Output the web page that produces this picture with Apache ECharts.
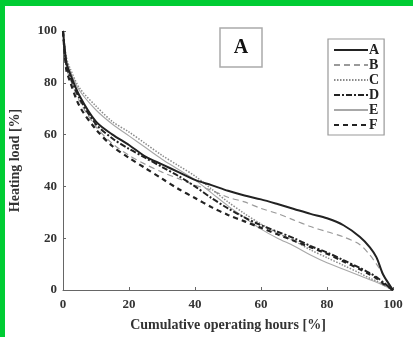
<!DOCTYPE html>
<html>
<head>
<meta charset="utf-8">
<style>
  html, body { margin: 0; padding: 0; background: #fff; }
  #chart { width: 413px; height: 337px; }
</style>
<script src="https://cdn.jsdelivr.net/npm/echarts@6/dist/echarts.min.js"></script>
</head>
<body>
<div id="chart"></div>
<script>
// Load duration curves: share of cumulative operating hours (x) vs heating load (y), in percent
const hoursPct = [0, 1, 2, 5, 10, 15, 20, 25, 30, 35, 40, 45, 50, 55, 60, 65, 70, 75, 80, 85, 90, 93, 95, 97, 100];

const loadA = [100, 88, 84, 75, 65, 60, 56, 51.5, 48.5, 45.5, 42.5, 40.5, 38.3, 36.5, 35, 33.2, 31.3, 29.4, 27.7, 25, 20.5, 16.5, 12.6, 6, 0];
const loadB = [100, 86, 82, 73, 63, 56.5, 52, 48.5, 45.5, 43, 40.5, 38.5, 35.8, 34, 31.5, 29.5, 27, 24.5, 22.5, 20.5, 17.5, 13.5, 10, 6, 0];
const loadC = [100, 90, 86, 78, 71, 65, 61, 56.5, 52, 48, 44, 39, 34, 29.5, 25.5, 22, 19, 15.5, 12.5, 9.5, 6.5, 4.5, 3.5, 2, 0];
const loadD = [100, 87, 83, 74, 64, 58.5, 54.5, 51, 47.5, 44, 40, 35.5, 31.5, 28, 25, 22.5, 20, 17, 14.5, 11.5, 8.5, 6.5, 5, 3, 0];
const loadE = [100, 89, 85, 77, 69.5, 64, 59.5, 55, 50.5, 46.5, 42.5, 37.5, 32.5, 28, 23.5, 20, 17, 13.5, 10.5, 8, 5.5, 4, 3, 1.8, 0];
const loadF = [100, 85, 81, 71, 62, 55.5, 51, 47, 43, 39, 35.5, 32, 29, 26.5, 24, 21.5, 19, 16.5, 14, 11, 8, 6, 4.5, 2.5, 0];

const seriesNames = ['A', 'B', 'C', 'D', 'E', 'F'];
const xTicks = [0, 20, 40, 60, 80, 100];
const yTicks = [0, 20, 40, 60, 80, 100];

const loads = [loadA, loadB, loadC, loadD, loadE, loadF];
const styles = [
  { color: '#222', width: 2, type: 'solid' },
  { color: '#9a9a9a', width: 1.2, type: [6, 4] },
  { color: '#8a8a8a', width: 1.5, type: [1.5, 1.5] },
  { color: '#222', width: 2, type: [6, 2, 2, 2] },
  { color: '#a8a8a8', width: 1.1, type: 'solid' },
  { color: '#222', width: 2.2, type: [5, 4] }
];

const serif = '"Liberation Serif", "DejaVu Serif", serif';
const textColor = '#333';

const chart = echarts.init(document.getElementById('chart'), null, { renderer: 'canvas' });

chart.setOption({
  animation: false,
  backgroundColor: '#fff',
  grid: { left: 60, right: 20, top: 31, bottom: 44 },
  xAxis: {
    type: 'value', min: 0, max: 100, interval: 20,
    name: 'Cumulative operating hours [%]',
    nameLocation: 'middle', nameGap: 28,
    nameTextStyle: { fontFamily: serif, fontWeight: 'bold', fontSize: 14, color: textColor },
    axisLine: { show: true, lineStyle: { color: '#666', width: 1 } },
    axisTick: { show: true, inside: true, length: 3, lineStyle: { color: '#666' } },
    axisLabel: {
      fontFamily: serif, fontWeight: 'bold', fontSize: 13, color: textColor, margin: 8,
      formatter: v => (xTicks.includes(v) ? String(v) : '')
    },
    splitLine: { show: false }
  },
  yAxis: {
    type: 'value', min: 0, max: 100, interval: 20,
    name: 'Heating load [%]',
    nameLocation: 'middle', nameGap: 41, nameRotate: 90,
    nameTextStyle: { fontFamily: serif, fontWeight: 'bold', fontSize: 14, color: textColor },
    axisLine: { show: true, lineStyle: { color: '#666', width: 1 } },
    axisTick: { show: true, inside: true, length: 3, lineStyle: { color: '#666' } },
    axisLabel: {
      fontFamily: serif, fontWeight: 'bold', fontSize: 13, color: textColor, margin: 6,
      formatter: v => (yTicks.includes(v) ? String(v) : '')
    },
    splitLine: { show: false }
  },
  legend: {
    orient: 'vertical',
    left: 328, top: 39,
    padding: [4, 5, 3, 5],
    itemWidth: 34, itemHeight: 10, itemGap: 1,
    borderColor: '#999', borderWidth: 1.2,
    backgroundColor: '#fff',
    itemStyle: { opacity: 0 },
    lineStyle: { opacity: 1 },
    textStyle: { fontFamily: serif, fontWeight: 'bold', fontSize: 14, lineHeight: 12, color: '#222', padding: [0, 0, 0, -4] },
    data: seriesNames
  },
  graphic: [
    { type: 'rect', shape: { x: 0, y: 0, width: 413, height: 6 }, style: { fill: '#00cc33' }, z: 100 },
    { type: 'rect', shape: { x: 0, y: 0, width: 5, height: 337 }, style: { fill: '#00cc33' }, z: 100 },
    { type: 'rect', shape: { x: 220, y: 28, width: 42, height: 39 }, style: { fill: '#fff', stroke: '#aaa', lineWidth: 1.5 }, z: 50 },
    { type: 'text', x: 241, y: 48, style: { text: 'A', font: 'bold 20px ' + serif, fill: '#111', align: 'center', verticalAlign: 'middle' }, z: 51 }
  ],
  series: seriesNames.map((name, i) => ({
    name,
    type: 'line',
    showSymbol: false,
    symbol: 'none',
    smooth: 0.3,
    data: hoursPct.map((x, j) => [x, loads[i][j]]),
    lineStyle: styles[i],
    itemStyle: { color: styles[i].color },
    z: i === 1 || i === 2 || i === 4 ? 2 : 3
  }))
});
</script>
</body>
</html>
